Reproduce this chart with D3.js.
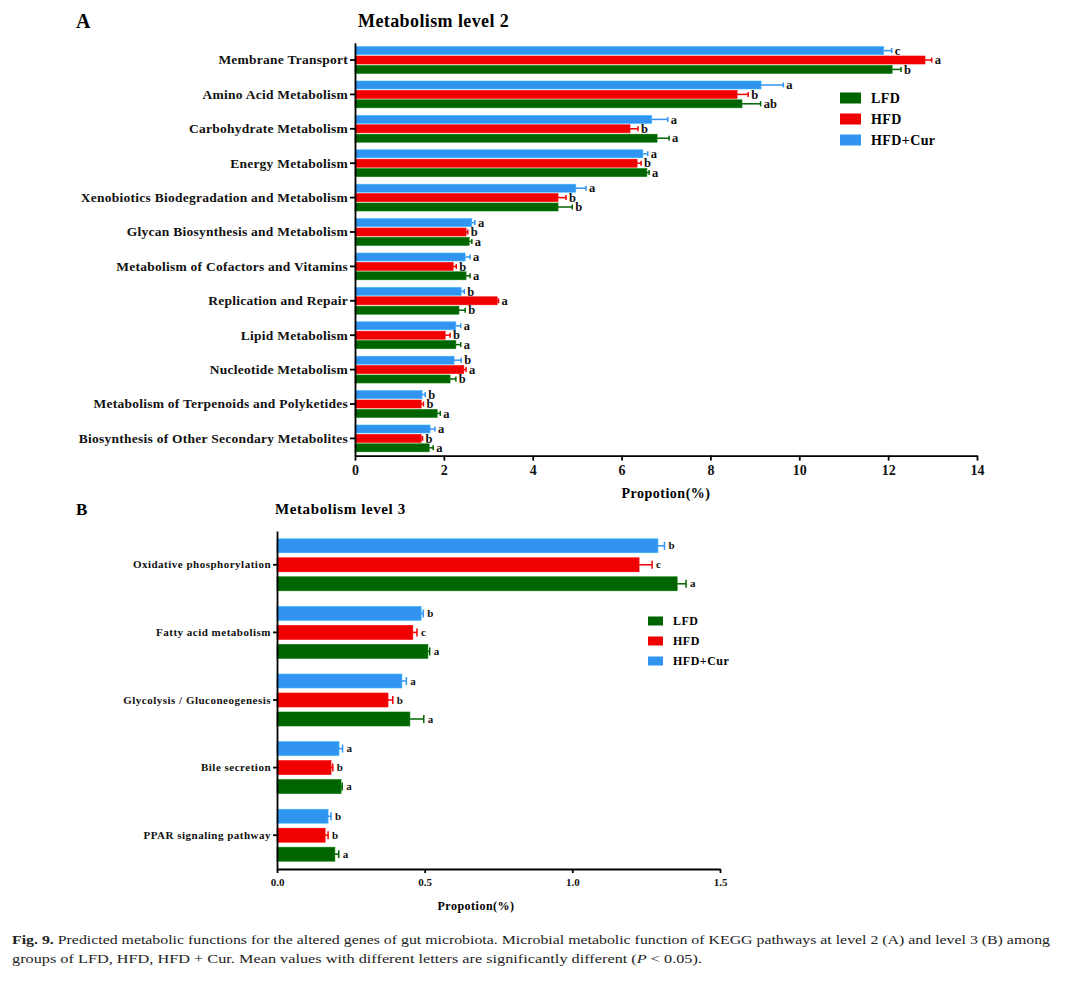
<!DOCTYPE html>
<html><head><meta charset="utf-8">
<script src="https://cdn.jsdelivr.net/npm/d3@7/dist/d3.min.js"></script>
<style>body{margin:0;background:#fff}svg{display:block}</style>
</head><body><svg id="c" width="1067" height="982"></svg>
<script>
const groups = ["LFD","HFD","HFD+Cur"];
const colors = ["#006400","#f00000","#3094f0"];

// Panel A (level 2)
const catsA = ["Membrane Transport","Amino Acid Metabolism","Carbohydrate Metabolism","Energy Metabolism","Xenobiotics Biodegradation and Metabolism","Glycan Biosynthesis and Metabolism","Metabolism of Cofactors and Vitamins","Replication and Repair","Lipid Metabolism","Nucleotide Metabolism","Metabolism of Terpenoids and Polyketides","Biosynthesis of Other Secondary Metabolites"];
const lfdA = [12.09,8.71,6.80,6.57,4.57,2.57,2.50,2.34,2.27,2.14,1.85,1.67];
const hfdA = [12.83,8.60,6.19,6.35,4.57,2.50,2.21,3.20,2.03,2.45,1.49,1.49];
const curA = [11.90,9.14,6.68,6.48,4.97,2.63,2.48,2.39,2.27,2.23,1.51,1.69];
const lfdAerr = [0.20,0.42,0.27,0.05,0.32,0.06,0.09,0.14,0.11,0.13,0.07,0.09];
const hfdAerr = [0.15,0.25,0.18,0.09,0.18,0.04,0.07,0.03,0.11,0.05,0.05,0.03];
const curAerr = [0.18,0.50,0.36,0.11,0.23,0.07,0.11,0.07,0.11,0.16,0.07,0.11];
const lfdAlet = ["b","ab","a","a","b","a","a","b","a","b","a","a"];
const hfdAlet = ["a","b","b","b","b","b","b","a","b","a","b","b"];
const curAlet = ["c","a","a","a","a","a","a","b","a","b","b","a"];
const ticksA = [0,2,4,6,8,10,12,14];

// Panel B (level 3)
const catsB = ["Oxidative phosphorylation","Fatty acid metabolism","Glycolysis / Gluconeogenesis","Bile secretion","PPAR signaling pathway"];
const lfdB = [1.355,0.511,0.450,0.217,0.196];
const hfdB = [1.226,0.460,0.376,0.183,0.163];
const curB = [1.290,0.488,0.423,0.210,0.173];
const lfdBerr = [0.030,0.006,0.047,0.004,0.013];
const hfdBerr = [0.044,0.014,0.016,0.006,0.010];
const curBerr = [0.022,0.007,0.015,0.012,0.010];
const lfdBlet = ["a","a","a","a","a"];
const hfdBlet = ["c","c","b","b","b"];
const curBlet = ["b","b","a","a","b"];
const ticksB = [0,0.5,1.0,1.5];

const svg = d3.select("#c");
const serif = "'Liberation Serif','Times New Roman',serif";

function panel(o){
  const g = svg.append("g");
  const x = d3.scaleLinear().domain(o.domain).range([o.x0,o.x1]);
  const y = d3.scaleBand().domain(o.cats).range([o.y0,o.y1]);
  const sub = d3.scaleBand().domain(["HFD+Cur","HFD","LFD"]).range([y.bandwidth()/2 - o.step*1.5, y.bandwidth()/2 + o.step*1.5]);
  const series = [
    {name:"LFD", v:o.lfd, e:o.lfdE, l:o.lfdL, c:colors[0]},
    {name:"HFD", v:o.hfd, e:o.hfdE, l:o.hfdL, c:colors[1]},
    {name:"HFD+Cur", v:o.cur, e:o.curE, l:o.curL, c:colors[2]}
  ];
  series.forEach(s=>{
    const sg = g.append("g");
    o.cats.forEach((cat,i)=>{
      const yc = y(cat) + sub(s.name) + sub.bandwidth()/2;
      sg.append("rect").attr("x",x(0)).attr("y",yc-o.bh/2).attr("width",x(s.v[i])-x(0)).attr("height",o.bh)
        .attr("fill",s.c).attr("stroke",d3.color(s.c).brighter(0.6)).attr("stroke-width",0.6);
      const xe = x(s.v[i]+s.e[i]);
      sg.append("line").attr("x1",x(s.v[i])).attr("x2",xe).attr("y1",yc).attr("y2",yc).attr("stroke",s.c).attr("stroke-width",1.5);
      sg.append("line").attr("x1",xe).attr("x2",xe).attr("y1",yc-o.cap).attr("y2",yc+o.cap).attr("stroke",s.c).attr("stroke-width",1.5);
      sg.append("text").attr("x",xe+o.lgap).attr("y",yc).attr("dy","0.33em").attr("font-family",serif)
        .attr("font-weight","bold").attr("font-size",o.lfs).attr("fill","#111").text(s.l[i]);
    });
  });
  // axes
  const ax = g.append("g").attr("transform",`translate(0,${o.y1})`)
    .call(d3.axisBottom(x).tickValues(o.ticks).tickFormat(o.fmt).tickSize(o.tick).tickSizeOuter(0));
  ax.select(".domain").attr("stroke","#000").attr("stroke-width",1.8);
  ax.selectAll(".tick line").attr("stroke","#000").attr("stroke-width",1.8);
  ax.selectAll(".tick text").attr("font-family",serif).attr("font-weight","bold").attr("font-size",o.tfs).attr("fill","#111").attr("dy",o.tdy);
  const ay = g.append("g").attr("transform",`translate(${o.x0},0)`)
    .call(d3.axisLeft(y).tickSize(o.tick).tickSizeOuter(0).tickPadding(2));
  ay.select(".domain").attr("stroke","#000").attr("stroke-width",1.8);
  ay.selectAll(".tick line").attr("stroke","#000").attr("stroke-width",1.8);
  ay.selectAll(".tick text").attr("font-family",serif).attr("font-weight","bold").attr("font-size",o.cfs)
    .attr("letter-spacing",o.cls).attr("fill","#111");
  g.append("text").attr("x",o.xtX).attr("y",o.xtY).attr("text-anchor","middle").attr("font-family",serif)
    .attr("font-weight","bold").attr("font-size",o.xtfs).attr("letter-spacing",o.xtls).text("Propotion(%)");
  g.append("text").attr("x",o.titleX).attr("y",o.titleY).attr("font-family",serif).attr("font-weight","bold")
    .attr("font-size",o.titleFs).attr("letter-spacing",o.titleLs).text(o.title);
  g.append("text").attr("x",76).attr("y",o.titleY+1).attr("font-family",serif).attr("font-weight","bold").attr("font-size",o.letterFs).text(o.letter);
  // legend
  series.forEach((s,i)=>{
    g.append("rect").attr("x",o.legX).attr("y",o.legY+i*o.legStep-o.legH/2).attr("width",o.legW).attr("height",o.legH).attr("fill",s.c);
    g.append("text").attr("x",o.legX+o.legW+10).attr("y",o.legY+i*o.legStep).attr("dy","0.35em").attr("font-family",serif)
      .attr("font-weight","bold").attr("font-size",o.legFs).attr("letter-spacing",o.legLs).text(s.name);
  });
}

panel({cats:catsA, domain:[0,14], x0:355, x1:977, y0:42.8, y1:455.6, step:9.4, bh:8, cap:2.5, lgap:3, lfs:12.5,
  lfd:lfdA,hfd:hfdA,cur:curA,lfdE:lfdAerr,hfdE:hfdAerr,curE:curAerr,lfdL:lfdAlet,hfdL:hfdAlet,curL:curAlet,
  ticks:ticksA, fmt:d3.format("d"), tick:5, tfs:14, tdy:"0.85em", cfs:13.5, cls:0.25, xtX:666, xtY:498, xtfs:14, xtls:0.5,
  title:"Metabolism level 2", titleX:358, titleY:27, titleFs:18, titleLs:0.4, letter:"A", letterFs:20,
  legX:840, legY:98, legStep:21, legW:21, legH:11, legFs:14, legLs:0.4});

panel({cats:catsB, domain:[0,1.5], x0:277, x1:720, y0:531, y1:869, step:19, bh:14, cap:4, lgap:4, lfs:11,
  lfd:lfdB,hfd:hfdB,cur:curB,lfdE:lfdBerr,hfdE:hfdBerr,curE:curBerr,lfdL:lfdBlet,hfdL:hfdBlet,curL:curBlet,
  ticks:ticksB, fmt:d3.format(".1f"), tick:4, tfs:11, tdy:"0.95em", cfs:11, cls:0.5, xtX:476, xtY:910, xtfs:12, xtls:0.5,
  title:"Metabolism level 3", titleX:275, titleY:514, titleFs:15, titleLs:0.6, letter:"B", letterFs:17,
  legX:648, legY:621, legStep:20, legW:15, legH:9, legFs:12, legLs:0.5});

// caption
const cap = svg.append("g").attr("font-family",serif).attr("font-size",13).attr("fill","#222");
const t1 = cap.append("text").attr("x",12).attr("y",944).attr("textLength",1038).attr("lengthAdjust","spacingAndGlyphs");
t1.append("tspan").attr("font-weight","bold").text("Fig. 9.");
t1.append("tspan").text("  Predicted metabolic functions for the altered genes of gut microbiota. Microbial metabolic function of KEGG pathways at level 2 (A) and level 3 (B) among");
const t2 = cap.append("text").attr("x",12).attr("y",963).attr("textLength",690).attr("lengthAdjust","spacingAndGlyphs");
t2.append("tspan").text("groups of LFD, HFD, HFD + Cur. Mean values with different letters are significantly different (");
t2.append("tspan").attr("font-style","italic").text("P");
t2.append("tspan").text(" < 0.05).");
</script></body></html>
